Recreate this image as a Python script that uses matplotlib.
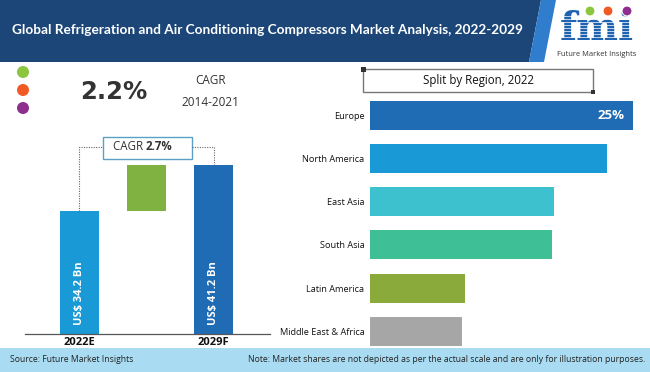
import matplotlib
matplotlib.use("Agg")
import matplotlib.pyplot as plt
from matplotlib.patches import Rectangle, Polygon, Circle

# ---------------- data ----------------
title = "Global Refrigeration and Air Conditioning Compressors Market Analysis, 2022-2029"
hist_cagr = "2.2%"
hist_period = "2014-2021"
fc_cagr = "2.7%"
years = ["2022E", "2029F"]
market_values = [34.2, 41.2]          # US$ Bn
value_labels = ["US$ 34.2 Bn", "US$ 41.2 Bn"]
regions = ["Europe", "North America", "East Asia", "South Asia",
           "Latin America", "Middle East & Africa"]
shares = [25.0, 22.5, 17.5, 17.3, 9.0, 8.7]   # illustrative split (%)
top_label = "25%"
region_title = "Split by Region, 2022"
source = "Source: Future Market Insights"
note = "Note: Market shares are not depicted as per the actual scale and are only for illustration purposes."

# ---------------- style ----------------
W, H = 650, 372
NAVY = "#1b4677"
STRIPE = "#2f7dcc"
FOOT = "#a9dcf2"
C_2022 = "#199ad6"
C_2029 = "#1f6cb5"
C_DIFF = "#7fb241"
region_colors = ["#1f6cb5", "#199ad6", "#3ec1cf", "#3fbf95", "#8aab3c", "#a6a6a6"]
FONT = "Open Sans"

fig = plt.figure(figsize=(W / 100, H / 100), dpi=100)
fig.patch.set_facecolor("white")

def rect(l, t, r, b):
    return [l / W, 1 - b / H, (r - l) / W, (b - t) / H]

bg = fig.add_axes([0, 0, 1, 1])
bg.set_xlim(0, W)
bg.set_ylim(H, 0)
bg.axis("off")

# header
bg.add_patch(Polygon([(0, 0), (541, 0), (529, 62), (0, 62)], closed=True,
                     facecolor=NAVY, edgecolor="none"))
bg.add_patch(Polygon([(541, 0), (556, 0), (544, 62), (529, 62)], closed=True,
                     facecolor=STRIPE, edgecolor="none"))
bg.text(12, 30, title, color="white", fontsize=9.8, fontweight="bold",
        family="Lato", va="center", ha="left")

# logo
bg.text(597, 40, "fmi", color="#1e62b0", fontsize=28.5, fontweight="bold",
        family="DejaVu Serif", va="baseline", ha="center", zorder=3)
for yy in range(16, 41, 3):
    bg.plot([553, 647], [yy, yy], color="white", lw=0.5, zorder=4)
for cx, cc in [(590, "#8cc63f"), (608, "#f15a24"), (627, "#8e2f8f")]:
    bg.add_patch(Circle((cx, 11), 5, facecolor=cc, edgecolor="white", lw=0.8,
                        zorder=5))
bg.text(597, 54, "Future Market Insights", color="#333333", fontsize=5.4,
        family=FONT, va="center", ha="center")

# CAGR block
for cy, cc in [(72, "#8cc63f"), (90, "#f15a24"), (108, "#8e2f8f")]:
    bg.add_patch(Circle((23, cy), 6, facecolor=cc, edgecolor="none"))
bg.text(114, 92, hist_cagr, fontsize=17.5, fontweight="bold", color="#333333",
        family="DejaVu Sans", va="center", ha="center")
bg.text(210, 80, "CAGR", fontsize=8.5, color="#333333", family=FONT,
        va="center", ha="center")
bg.text(210, 103, hist_period, fontsize=8.5, color="#333333", family=FONT,
        va="center", ha="center")

# footer
bg.add_patch(Rectangle((0, 348), W, 24, facecolor=FOOT, edgecolor="none"))
bg.text(10, 360, source, fontsize=6.2, color="#222222", family=FONT,
        va="center", ha="left")
bg.text(645, 360, note, fontsize=6.2, color="#222222", family=FONT,
        va="center", ha="right")

# region title box
bg.add_patch(Rectangle((363, 69), 230, 23, facecolor="white",
                       edgecolor="#777777", lw=1))
bg.add_patch(Rectangle((361, 67), 4.5, 4.5, facecolor="#333333", edgecolor="none"))
bg.add_patch(Rectangle((590.5, 89.5), 4.5, 4.5, facecolor="#333333", edgecolor="none"))
bg.text(478, 80.5, region_title, fontsize=8.3, color="#111111", family=FONT,
        va="center", ha="center")

# ---------------- left: waterfall ----------------
ax1 = fig.add_axes(rect(25, 130, 270, 334))
ax1.patch.set_alpha(0)
ymin = 15.5
ax1.set_ylim(ymin, ymin + 204 / 6.58)
ax1.set_xlim(-0.813, 2.843)
bw = 0.58
ax1.bar([0], [market_values[0] - ymin], bottom=ymin, width=bw, color=C_2022)
ax1.bar([2], [market_values[1] - ymin], bottom=ymin, width=bw, color=C_2029)
ax1.bar([1], [market_values[1] - market_values[0]], bottom=market_values[0],
        width=bw, color=C_DIFF)
for x, lab in zip([0, 2], value_labels):
    ax1.annotate(lab, xy=(x, ymin), xytext=(0, 6.5), textcoords="offset points",
                 rotation=90, ha="center", va="bottom", color="white",
                 fontsize=8, fontweight="bold", family=FONT)
ax1.set_xticks([0, 2])
ax1.set_xticklabels(years, fontsize=8, fontweight="bold", family=FONT,
                    color="#111111")
ax1.tick_params(axis="x", length=0, pad=2)
ax1.set_yticks([])
for s in ["left", "right", "top"]:
    ax1.spines[s].set_visible(False)
ax1.spines["bottom"].set_color("#555555")
ax1.spines["bottom"].set_linewidth(0.9)

# connector + CAGR box
ytop = ymin + (334 - 147) / 6.58
bx0, bx1 = 0.35, 1.68
by0, by1 = ymin + (334 - 159) / 6.58, ymin + (334 - 137) / 6.58
ax1.plot([0, 0, bx0], [market_values[0], ytop, ytop], color="#666666",
         lw=0.8, ls=(0, (1, 1.2)))
ax1.plot([bx1, 2, 2], [ytop, ytop, market_values[1]], color="#666666",
         lw=0.8, ls=(0, (1, 1.2)))
ax1.add_patch(Rectangle((bx0, by0), bx1 - bx0, by1 - by0, facecolor="white",
                        edgecolor="#5b9fc4", lw=1))
ax1.text(0.99, ytop, "CAGR ", fontsize=8.3, family=FONT, color="#333333",
         ha="right", va="center")
ax1.text(0.99, ytop, fc_cagr, fontsize=8.3, family=FONT, color="#333333",
         fontweight="bold", ha="left", va="center")

# ---------------- right: split by region ----------------
ax2 = fig.add_axes(rect(370, 93.4, 645, 353))
ax2.patch.set_alpha(0)
ypos = list(range(len(regions)))
ax2.barh(ypos, shares, height=0.67, color=region_colors)
ax2.set_ylim(5.5, -0.5)
ax2.set_xlim(0, 275 / 10.52)
ax2.set_yticks(ypos)
ax2.set_yticklabels(regions, fontsize=6.6, family=FONT, color="#111111")
ax2.tick_params(axis="y", length=0, pad=4)
ax2.set_xticks([])
for s in ax2.spines.values():
    s.set_visible(False)
ax2.annotate(top_label, xy=(shares[0], 0), xytext=(-6, 0),
             textcoords="offset points", ha="right", va="center",
             color="white", fontsize=9.5, fontweight="bold", family=FONT)

fig.savefig("out.png", dpi=100)
